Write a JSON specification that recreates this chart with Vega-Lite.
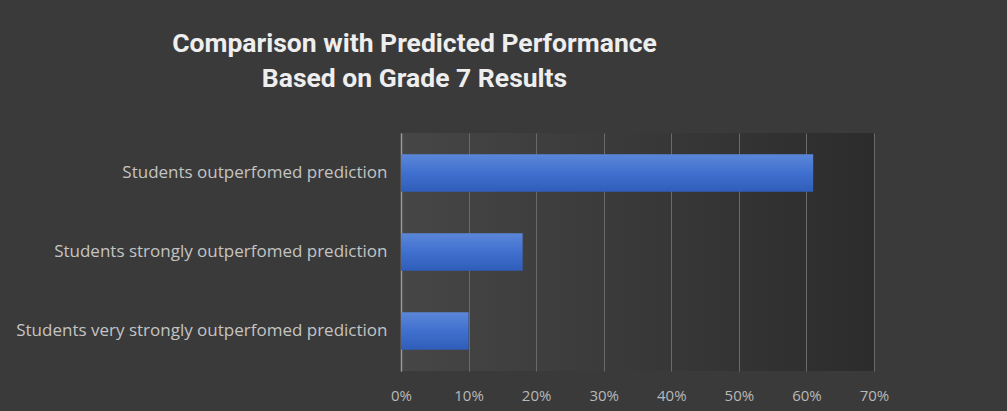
{
  "$schema": "https://vega.github.io/schema/vega-lite/v6.json",
  "autosize": "none",
  "width": 473,
  "height": 238,
  "padding": {"left": 401, "top": 133, "right": 133, "bottom": 40},
  "background": "#3a3a3a",
  "title": {
    "text": ["Comparison with Predicted Performance", "Based on Grade 7 Results"],
    "anchor": "middle",
    "dx": -223,
    "offset": 41,
    "font": "Roboto",
    "fontSize": 26.5,
    "fontWeight": "bold",
    "color": "#eeeeee",
    "lineHeight": 35
  },
  "config": {
    "view": {
      "stroke": null,
      "fill": {
        "gradient": "linear",
        "x1": 0, "y1": 0, "x2": 1, "y2": 0,
        "stops": [
          {"offset": 0, "color": "#464646"},
          {"offset": 1, "color": "#2c2c2c"}
        ]
      }
    }
  },
  "data": {
    "values": [
      {"category": "Students outperfomed prediction", "share": 0.61},
      {"category": "Students strongly outperfomed prediction", "share": 0.18},
      {"category": "Students very strongly outperfomed prediction", "share": 0.10}
    ]
  },
  "mark": {
    "type": "bar",
    "fill": {
      "gradient": "linear",
      "x1": 0, "y1": 0, "x2": 0, "y2": 1,
      "stops": [
        {"offset": 0, "color": "#5b87d9"},
        {"offset": 0.5, "color": "#4070cf"},
        {"offset": 1, "color": "#2f5db9"}
      ]
    }
  },
  "encoding": {
    "y": {
      "field": "category",
      "type": "nominal",
      "sort": null,
      "scale": {"paddingInner": 0.525, "paddingOuter": 0.27},
      "axis": {
        "title": null,
        "domain": true,
        "domainColor": "#9a9a9a",
        "domainWidth": 1.5,
        "ticks": false,
        "labelPadding": 14,
        "labelFont": "Open Sans",
        "labelFontSize": 17,
        "labelColor": "#c4c4c4",
        "labelLimit": 400
      }
    },
    "x": {
      "field": "share",
      "type": "quantitative",
      "scale": {"domain": [0, 0.7]},
      "axis": {
        "title": null,
        "format": ".0%",
        "values": [0, 0.1, 0.2, 0.3, 0.4, 0.5, 0.6, 0.7],
        "domain": false,
        "ticks": false,
        "grid": true,
        "gridColor": "#6a6a6a",
        "gridWidth": 1,
        "labelFlush": false,
        "labelPadding": 17,
        "labelFont": "Open Sans",
        "labelFontSize": 15,
        "labelColor": "#b8b8b8"
      }
    }
  }
}
